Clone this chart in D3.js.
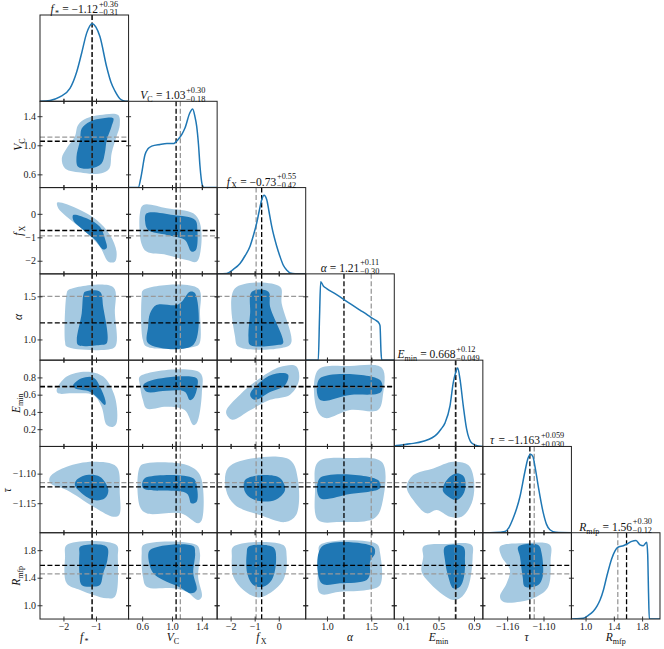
<!DOCTYPE html>
<html><head><meta charset="utf-8">
<script src="https://cdn.jsdelivr.net/npm/d3@7"></script>
<style>body{margin:0;background:#fff} svg{display:block} text{font-family:"Liberation Serif","Times New Roman","DejaVu Serif",serif;}</style>
</head><body><svg id="c" width="664" height="649"></svg>
<script>
// ---------------- DATA ----------------
const symMain = ["f","V","f","α","E","τ","R"];
const symSub  = ["*","C","X","","min","","mfp"];
const ranges = [[-2.72,0.0],[0.418,1.605],[-2.56,1.12],[0.76,1.76],[0,1],[-1.2,-1.054],[0.8,2.053]];
const xTicks = [[-2,-1],[0.6,1.0,1.4],[-2,-1,0],[1.0,1.5],[0.1,0.5,0.9],[-1.16,-1.10],[1.0,1.4,1.8]];
const xTickLabels = [["−2","−1"],["0.6","1.0","1.4"],["−2","−1","0"],["1.0","1.5"],["0.1","0.5","0.9"],["−1.16","−1.10"],["1.0","1.4","1.8"]];
const yTicks = [[],[0.6,1.0,1.4],[-2,-1,0],[1.0,1.5],[0.2,0.4,0.6,0.8],[-1.15,-1.10],[1.0,1.4,1.8]];
const yTickLabels = [[],["0.6","1.0","1.4"],["−2","−1","0"],["1.0","1.5"],["0.2","0.4","0.6","0.8"],["−1.15","−1.10"],["1.0","1.4","1.8"]];
const medians = [-1.12, 1.055, -0.71, 1.192, 0.695, -1.1225, 1.58];
const truths  = [-1.12, 1.112, -0.94, 1.50, 0.688, -1.1153, 1.456];
const titleVals  = ["−1.12","1.03","−0.73","1.21","0.668","−1.163","1.56"];
const titlePlus  = ["+0.36","+0.30","+0.55","+0.11","+0.12","+0.059","+0.30"];
const titleMinus = ["−0.31","−0.18","−0.42","−0.30","−0.049","+0.030","−0.12"];

// 1D marginal curves (x value, relative density)
const pdfX = [
 [-2.72,-2.41,-2.11,-1.80,-1.594,-1.44,-1.287,-1.116,-1.002,-0.88,-0.674,-0.54,-0.42,-0.266,-0.165,-0.02],
 [0.418,0.548,0.584,0.638,0.678,0.728,0.839,0.933,1.017,1.084,1.134,1.174,1.241,1.277,1.308,1.331,1.355,1.375,1.406,1.429,1.605],
 [-2.56,-2.161,-1.899,-1.609,-1.40,-1.193,-1.069,-0.915,-0.819,-0.707,-0.612,-0.499,-0.404,-0.292,-0.084,0.053,0.19,0.344,0.469,0.676,1.12],
 [0.76,0.902,0.916,0.929,0.959,0.997,1.091,1.196,1.283,1.373,1.449,1.505,1.553,1.587,1.599,1.61,1.618,1.76],
 [0,0.027,0.177,0.327,0.479,0.527,0.572,0.629,0.666,0.691,0.716,0.742,0.779,0.817,0.874,0.948,1.0],
 [-1.2,-1.18,-1.1636,-1.157,-1.1499,-1.1443,-1.1388,-1.1306,-1.1257,-1.1212,-1.1174,-1.1141,-1.1087,-1.1004,-1.0952,-1.0894,-1.0795,-1.054],
 [0.8,0.865,0.968,1.035,1.11,1.162,1.205,1.254,1.299,1.37,1.417,1.455,1.534,1.586,1.653,1.714,1.77,1.817,1.865,1.879,1.891,1.902,2.053]
];
const pdfY = [
 [0,0.01,0.05,0.15,0.34,0.56,0.79,0.90,0.86,0.75,0.40,0.22,0.12,0.03,0.008,0],
 [0,0,0.12,0.38,0.45,0.48,0.50,0.51,0.51,0.56,0.62,0.69,0.87,0.91,0.82,0.71,0.50,0.25,0.03,0,0],
 [0,0.005,0.05,0.12,0.21,0.32,0.43,0.59,0.72,0.86,0.91,0.86,0.72,0.55,0.32,0.20,0.10,0.04,0.01,0,0],
 [0,0,0.5,0.91,0.86,0.83,0.77,0.70,0.64,0.58,0.53,0.49,0.46,0.43,0.40,0.1,0,0],
 [0.005,0.01,0.03,0.06,0.14,0.20,0.27,0.47,0.74,0.85,0.91,0.78,0.47,0.20,0.04,0.005,0],
 [0,0.003,0.015,0.06,0.17,0.28,0.42,0.71,0.86,0.91,0.88,0.77,0.54,0.23,0.10,0.035,0.005,0],
 [0,0.002,0.01,0.04,0.09,0.15,0.22,0.34,0.49,0.70,0.79,0.83,0.85,0.87,0.90,0.91,0.86,0.85,0.89,0.75,0.3,0,0]
];

// 2D credible regions: [row, col, outer (light) polygon, inner (dark) polygon] in data units
const contours = [
 [1,0,
  [[-0.32,1.417],[-0.27,1.28],[-0.37,1.12],[-0.52,0.89],[-0.59,0.68],[-0.83,0.615],[-1.39,0.62],[-1.95,0.68],[-2.05,0.82],[-1.90,0.96],[-1.65,1.12],[-1.55,1.28],[-1.29,1.37],[-0.88,1.417]],
  [[-0.47,1.37],[-0.52,1.26],[-0.67,1.07],[-0.73,0.89],[-0.83,0.75],[-1.19,0.68],[-1.55,0.705],[-1.60,0.84],[-1.49,1.07],[-1.44,1.23],[-1.19,1.325],[-0.78,1.37]]],
 [2,0,
  [[-2.19,0.48],[-1.60,0.24],[-0.98,-0.26],[-0.57,-0.90],[-0.37,-1.61],[-0.42,-2.04],[-0.62,-2.04],[-0.88,-1.40],[-1.39,-0.69],[-1.90,-0.12],[-2.16,0.24]],
  [[-1.70,-0.05],[-1.29,-0.19],[-0.88,-0.55],[-0.73,-1.04],[-0.67,-1.46],[-0.78,-1.52],[-1.03,-1.11],[-1.39,-0.69],[-1.70,-0.26]]],
 [2,1,
  [[0.615,0.38],[0.93,0.24],[1.285,0.02],[1.375,-0.40],[1.39,-1.40],[1.33,-2.04],[1.197,-1.97],[0.93,-1.75],[0.66,-1.61],[0.59,-1.26],[0.57,0.02]],
  [[0.66,0.02],[1.017,-0.05],[1.31,-0.26],[1.34,-0.69],[1.32,-1.54],[1.26,-1.61],[1.17,-1.11],[0.93,-0.90],[0.68,-0.69],[0.64,-0.33]]],
 [3,0,
  [[-1.85,1.573],[-0.47,1.605],[-0.42,1.30],[-0.37,0.956],[-0.47,0.898],[-1.90,0.917],[-1.95,0.974],[-1.90,1.535]],
  [[-1.34,1.554],[-0.88,1.554],[-0.78,1.38],[-0.67,0.956],[-0.88,0.936],[-1.55,0.936],[-1.59,0.994],[-1.44,1.30],[-1.39,1.515]]],
 [3,1,
  [[0.615,1.573],[1.35,1.593],[1.375,1.30],[1.37,0.956],[1.31,0.917],[0.66,0.917],[0.61,0.994],[0.594,1.496]],
  [[0.68,0.956],[1.285,0.936],[1.31,1.535],[1.24,1.554],[1.13,1.438],[1.06,1.40],[0.79,1.40],[0.705,1.30],[0.68,1.148]]],
 [3,2,
  [[-1.816,1.593],[0.053,1.612],[0.12,1.419],[0.51,0.956],[0.053,0.898],[-1.68,0.917],[-1.816,1.032]],
  [[-1.12,1.554],[-0.43,1.554],[-0.36,1.38],[0.18,0.956],[-0.07,0.936],[-1.19,0.936],[-1.26,1.032],[-1.19,1.30]]],
 [4,0,
  [[-2.21,0.654],[-1.90,0.81],[-1.29,0.867],[-0.78,0.81],[-0.42,0.577],[-0.37,0.268],[-0.47,0.229],[-0.67,0.248],[-0.83,0.46],[-1.08,0.596],[-1.70,0.616],[-2.16,0.616]],
  [[-1.70,0.71],[-1.44,0.79],[-1.08,0.80],[-0.83,0.654],[-0.70,0.50],[-0.73,0.48],[-0.94,0.558],[-1.19,0.635],[-1.65,0.674]]],
 [4,1,
  [[0.57,0.81],[1.375,0.855],[1.40,0.616],[1.33,0.268],[1.285,0.248],[1.17,0.422],[0.93,0.46],[0.66,0.44],[0.61,0.537],[0.57,0.71]],
  [[0.615,0.71],[0.73,0.768],[1.33,0.79],[1.34,0.693],[1.285,0.558],[1.24,0.537],[1.17,0.635],[0.93,0.646],[0.66,0.635]]],
 [4,2,
  [[-2.19,0.40],[-1.61,0.60],[-0.78,0.79],[0.05,0.92],[0.72,0.93],[0.84,0.77],[0.47,0.60],[-0.36,0.54],[-1.19,0.42],[-1.94,0.31]],
  [[-1.19,0.60],[-0.57,0.79],[0.05,0.85],[0.39,0.83],[0.26,0.71],[-0.36,0.63],[-0.99,0.54]]],
 [4,3,
  [[0.899,0.886],[1.26,0.933],[1.621,0.91],[1.632,0.596],[1.576,0.422],[1.26,0.422],[0.978,0.329],[0.888,0.422]],
  [[0.92,0.79],[1.60,0.77],[1.61,0.63],[1.26,0.596],[0.92,0.54]]],
 [5,0,
  [[-2.41,-1.1053],[-1.90,-1.0883],[-1.08,-1.0799],[-0.37,-1.0883],[-0.27,-1.1334],[-0.29,-1.170],[-0.47,-1.173],[-1.08,-1.156],[-1.90,-1.1278],[-2.41,-1.116]],
  [[-1.60,-1.1109],[-1.29,-1.1024],[-0.88,-1.1053],[-0.62,-1.1278],[-0.73,-1.1418],[-1.08,-1.1447],[-1.49,-1.1307],[-1.65,-1.1193]]],
 [5,1,
  [[0.57,-1.0883],[0.66,-1.0826],[1.197,-1.0855],[1.375,-1.1024],[1.40,-1.1785],[1.35,-1.1841],[1.12,-1.1672],[0.66,-1.1672],[0.57,-1.156]],
  [[0.615,-1.1109],[0.68,-1.1053],[1.285,-1.108],[1.34,-1.1278],[1.33,-1.1476],[1.26,-1.1503],[1.197,-1.1334],[0.615,-1.1249]]],
 [5,2,
  [[-2.11,-1.0905],[-0.99,-1.0736],[0.47,-1.0770],[0.80,-1.1109],[0.72,-1.1701],[0.27,-1.1819],[-0.78,-1.1701],[-1.82,-1.1532],[-2.19,-1.1278]],
  [[-1.40,-1.1109],[-0.69,-1.1024],[0.05,-1.1075],[0.26,-1.1278],[-0.15,-1.1447],[-0.99,-1.1447],[-1.40,-1.1312]]],
 [5,3,
  [[0.899,-1.0804],[1.26,-1.0736],[1.621,-1.0804],[1.632,-1.1447],[1.54,-1.1751],[1.147,-1.1819],[0.899,-1.1785],[0.865,-1.1278]],
  [[0.92,-1.1075],[1.576,-1.1109],[1.60,-1.1244],[1.26,-1.1346],[0.92,-1.1413]]],
 [5,4,
  [[0.214,-1.1024],[0.44,-1.0911],[0.666,-1.0799],[0.835,-1.0855],[0.90,-1.1109],[0.874,-1.1503],[0.761,-1.173],[0.629,-1.173],[0.478,-1.1616],[0.366,-1.1672],[0.214,-1.1447],[0.14,-1.1222]],
  [[0.61,-1.108],[0.704,-1.0995],[0.787,-1.1053],[0.798,-1.1278],[0.742,-1.1418],[0.686,-1.1447],[0.553,-1.1307],[0.553,-1.1222]]],
 [6,0,
  [[-1.90,1.874],[-0.37,1.874],[-0.33,1.705],[-0.42,1.124],[-0.67,1.101],[-1.08,1.149],[-1.49,1.221],[-1.90,1.318],[-1.95,1.705]],
  [[-1.49,1.85],[-0.67,1.85],[-0.65,1.657],[-0.78,1.464],[-0.88,1.294],[-1.13,1.27],[-1.44,1.294],[-1.51,1.464],[-1.51,1.754]]],
 [6,1,
  [[0.615,1.874],[1.33,1.874],[1.375,1.754],[1.35,1.414],[1.40,1.124],[1.35,1.076],[1.197,1.197],[1.017,1.246],[0.66,1.27],[0.61,1.414],[0.594,1.754]],
  [[0.705,1.802],[1.285,1.86],[1.31,1.754],[1.285,1.464],[1.33,1.222],[1.26,1.173],[1.09,1.27],[0.88,1.367],[0.75,1.464],[0.695,1.609]]],
 [6,2,
  [[-1.887,1.85],[0.19,1.874],[0.33,1.705],[0.19,1.367],[-0.50,1.149],[-0.915,1.116],[-1.47,1.221],[-1.887,1.414],[-1.95,1.705]],
  [[-1.26,1.85],[-0.225,1.841],[-0.11,1.657],[-0.29,1.367],[-0.64,1.27],[-1.056,1.294],[-1.31,1.464],[-1.33,1.754]]],
 [6,3,
  [[0.921,1.874],[1.561,1.889],[1.60,1.754],[1.60,1.294],[1.449,1.221],[1.147,1.197],[0.921,1.173],[0.914,1.705]],
  [[0.94,1.85],[1.523,1.85],[1.542,1.754],[1.486,1.632],[1.486,1.464],[1.449,1.367],[1.147,1.318],[0.94,1.318]]],
 [6,4,
  [[0.327,1.85],[0.59,1.889],[0.874,1.874],[0.885,1.705],[0.835,1.27],[0.742,1.101],[0.666,1.076],[0.553,1.149],[0.403,1.318],[0.309,1.487],[0.327,1.705]],
  [[0.572,1.85],[0.779,1.85],[0.798,1.657],[0.787,1.414],[0.742,1.27],[0.666,1.246],[0.61,1.414],[0.572,1.657]]],
 [6,5,
  [[-1.1718,1.85],[-1.1334,1.899],[-1.0894,1.874],[-1.0883,1.657],[-1.0922,1.27],[-1.1113,1.124],[-1.1388,1.051],[-1.1664,1.051],[-1.1718,1.124],[-1.1608,1.318],[-1.1553,1.512],[-1.169,1.705]],
  [[-1.1416,1.85],[-1.1087,1.874],[-1.1031,1.754],[-1.1014,1.414],[-1.1087,1.294],[-1.1306,1.27],[-1.1344,1.414],[-1.1388,1.705]]]
];

// ---------------- LAYOUT ----------------
const svg = d3.select("#c");
const N = 7, L = 40, T = 15, W = 88.57, H = 86.29;
const FONT = '"Liberation Serif","Times New Roman","DejaVu Serif",serif';
const LIGHT = "#a5c9e1", DARK = "#1f77b4", GRAY = "#999999";
const TK = 5;
const yLabelX = [0, 22, 22, 22, 20, 11, 20];

const xs = ranges.map((r,j)=>d3.scaleLinear().domain(r).range([L+j*W, L+(j+1)*W]));
const ys = ranges.map((r,i)=>d3.scaleLinear().domain(r).range([T+(i+1)*H, T+i*H]));

const defs = svg.append("defs");
const dash = "5,2.4";

// approximate Times-like advance widths (em) for layout without DOM measurement
const adv = {"0":0.5,"1":0.5,"2":0.5,"3":0.5,"4":0.5,"5":0.5,"6":0.5,"7":0.5,"8":0.5,"9":0.5,".":0.25,
  "+":0.564,"−":0.564,"=":0.564," ":0.25,"*":0.5,"f":0.33,"V":0.61,"α":0.52,"E":0.61,"τ":0.45,"R":0.61,
  "C":0.667,"X":0.722,"m":0.778,"i":0.278,"n":0.5,"p":0.5};
const textW = (s, fs) => [...s].reduce((a,c)=>a+(adv[c]||0.5),0)*fs;

function symbolGroup(parent, i, fs){
  const g = parent.append("g");
  g.append("text").attr("x",0).attr("y",0).style("font-family",FONT).style("font-size",fs+"px")
    .style("font-style","italic").attr("fill","#111").text(symMain[i]);
  const wm = textW(symMain[i], fs) + (symMain[i]==="f" ? fs*0.06 : 0);
  let w = wm;
  if(symSub[i]){
    const ss = fs*0.7;
    g.append("text").attr("x", wm).attr("y", fs*0.24).style("font-family",FONT).style("font-size",ss+"px")
      .attr("fill","#111").text(symSub[i]);
    w += textW(symSub[i], ss);
  }
  return {g, w};
}

for(let i=0;i<N;i++){
  for(let j=0;j<=i;j++){
    const x0 = L+j*W, y0 = T+i*H;
    const id = `cp${i}_${j}`;
    defs.append("clipPath").attr("id", id).append("rect")
      .attr("x", x0).attr("y", y0).attr("width", W).attr("height", H);
    const g = svg.append("g");
    const pg = g.append("g").attr("clip-path", `url(#${id})`);
    if(i===j){
      const dy = d3.scaleLinear().domain([0,1]).range([y0+H, y0]);
      pg.append("line").attr("x1", xs[j](truths[j])).attr("x2", xs[j](truths[j]))
        .attr("y1", y0).attr("y2", y0+H).attr("stroke", GRAY).attr("stroke-width",1.3).attr("stroke-dasharray",dash);
      pg.append("line").attr("x1", xs[j](medians[j])).attr("x2", xs[j](medians[j]))
        .attr("y1", y0).attr("y2", y0+H).attr("stroke", "#000").attr("stroke-width",1.3).attr("stroke-dasharray",dash);
      const pts = pdfX[i].map((x,k)=>[x, pdfY[i][k]]);
      pg.append("path").attr("d", d3.line().x(d=>xs[j](d[0])).y(d=>dy(d[1])).curve(d3.curveMonotoneX)(pts))
        .attr("fill","none").attr("stroke", DARK).attr("stroke-width",1.5);
    } else {
      const c = contours.find(c=>c[0]===i && c[1]===j);
      const ln = d3.line().x(d=>xs[j](d[0])).y(d=>ys[i](d[1])).curve(d3.curveCatmullRomClosed.alpha(0.5));
      if(c){
        pg.append("path").attr("d", ln(c[2])).attr("fill", LIGHT);
        pg.append("path").attr("d", ln(c[3])).attr("fill", DARK);
      }
      const vl = (v,col)=>pg.append("line").attr("x1", xs[j](v)).attr("x2", xs[j](v)).attr("y1", y0).attr("y2", y0+H)
        .attr("stroke", col).attr("stroke-width",1.3).attr("stroke-dasharray",dash);
      const hl = (v,col)=>pg.append("line").attr("y1", ys[i](v)).attr("y2", ys[i](v)).attr("x1", x0).attr("x2", x0+W)
        .attr("stroke", col).attr("stroke-width",1.3).attr("stroke-dasharray",dash);
      vl(truths[j], GRAY); hl(truths[i], GRAY);
      vl(medians[j], "#000"); hl(medians[i], "#000");
    }
    const tickStyle = sel => { sel.select(".domain").remove(); sel.selectAll("line").attr("stroke","#222").attr("stroke-width",0.9); };
    g.append("g").attr("transform", `translate(0,${y0+H-TK/2})`)
      .call(d3.axisBottom(xs[j]).tickValues(xTicks[j]).tickSize(TK).tickFormat("")).call(tickStyle);
    if(i!==j){
      g.append("g").attr("transform", `translate(0,${y0-TK/2})`)
        .call(d3.axisBottom(xs[j]).tickValues(xTicks[j]).tickSize(TK).tickFormat("")).call(tickStyle);
      g.append("g").attr("transform", `translate(${x0-TK/2},0)`)
        .call(d3.axisRight(ys[i]).tickValues(yTicks[i]).tickSize(TK).tickFormat("")).call(tickStyle);
      g.append("g").attr("transform", `translate(${x0+W-TK/2},0)`)
        .call(d3.axisRight(ys[i]).tickValues(yTicks[i]).tickSize(TK).tickFormat("")).call(tickStyle);
    }
    g.append("rect").attr("x", x0).attr("y", y0).attr("width", W).attr("height", H)
      .attr("fill","none").attr("stroke","#222").attr("stroke-width",1);
  }
}

// tick labels: bottom row
for(let j=0;j<N;j++){
  const ax = svg.append("g").attr("transform", `translate(0,${T+N*H})`)
    .call(d3.axisBottom(xs[j]).tickValues(xTicks[j]).tickSize(0).tickPadding(4)
      .tickFormat((d,k)=>xTickLabels[j][k]));
  ax.select(".domain").remove();
  ax.attr("font-family", null).attr("font-size", null);
  ax.selectAll("text").style("font-family", FONT).style("font-size", "10px").attr("fill","#222");
}
// tick labels: left column
for(let i=1;i<N;i++){
  const ax = svg.append("g").attr("transform", `translate(${L},0)`)
    .call(d3.axisLeft(ys[i]).tickValues(yTicks[i]).tickSize(0).tickPadding(4)
      .tickFormat((d,k)=>yTickLabels[i][k]));
  ax.select(".domain").remove();
  ax.attr("font-family", null).attr("font-size", null);
  ax.selectAll("text").style("font-family", FONT).style("font-size", "10px").attr("fill","#222");
}

// axis labels
for(let j=0;j<N;j++){
  const s = symbolGroup(svg, j, 11.5);
  s.g.attr("transform", `translate(${L+(j+0.5)*W - s.w/2},641)`);
}
for(let i=1;i<N;i++){
  const s = symbolGroup(svg, i, 11.5);
  s.g.attr("transform", `translate(${yLabelX[i]},${T+(i+0.5)*H}) rotate(-90) translate(${-s.w/2},0)`);
}

// titles
for(let i=0;i<N;i++){
  const fs = 11.5, ss = 8.3;
  const g = svg.append("g");
  const s = symbolGroup(g, i, fs);
  const gap = 0.28*fs;
  const restStr = "= " + titleVals[i];
  g.append("text").attr("x", s.w + gap).attr("y", 0).style("font-family", FONT).style("font-size", fs+"px")
    .attr("fill","#111").text(restStr);
  const w = s.w + gap + textW(restStr, fs);
  g.append("text").attr("x", w+0.8).attr("y", -6.4).style("font-family", FONT).style("font-size", ss+"px").attr("fill","#111").text(titlePlus[i]);
  g.append("text").attr("x", w+0.8).attr("y", 2.4).style("font-family", FONT).style("font-size", ss+"px").attr("fill","#111").text(titleMinus[i]);
  const w2 = Math.max(textW(titlePlus[i], ss), textW(titleMinus[i], ss));
  g.attr("transform", `translate(${L+(i+0.5)*W - (w+0.8+w2)/2},${T+i*H-2})`);
}
</script>
</body></html>
